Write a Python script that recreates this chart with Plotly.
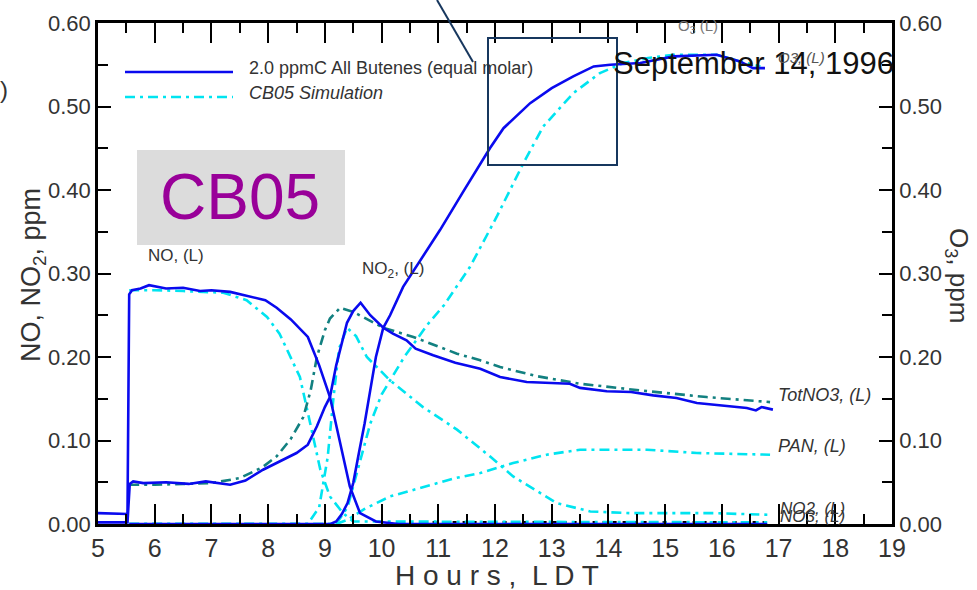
import plotly.graph_objects as go

# ---------------- data ----------------
hours_ticks = list(range(5, 20))

# measured (blue, solid)
no_meas_x = [5.0, 5.52, 5.55, 5.6, 5.75, 5.9, 6.2, 6.5, 6.8, 7.0, 7.33, 7.7, 7.95, 8.15, 8.4, 8.7, 8.9, 9.09, 9.3, 9.44, 9.62, 9.9, 10.3, 16.8]
no_meas_y = [0.013, 0.012, 0.275, 0.280, 0.282, 0.286, 0.282, 0.283, 0.279, 0.280, 0.278, 0.272, 0.268, 0.259, 0.245, 0.224, 0.190, 0.152, 0.090, 0.045, 0.013, 0.003, 0.000, 0.000]

noy_meas_x = [5.0, 5.52, 5.56, 5.62, 5.8, 6.2, 6.6, 6.9, 7.33, 7.6, 7.91, 8.2, 8.5, 8.7, 8.86, 9.0, 9.09, 9.2, 9.39, 9.5, 9.63, 9.8, 10.03, 10.2, 10.44, 10.6, 10.91, 11.3, 11.74, 12.09, 12.56, 13.32, 13.5, 13.97, 14.4, 14.79, 15.2, 15.56, 16.0, 16.44, 16.6, 16.7, 16.9]
noy_meas_y = [0.002, 0.002, 0.048, 0.051, 0.049, 0.050, 0.048, 0.051, 0.047, 0.052, 0.065, 0.075, 0.085, 0.095, 0.117, 0.140, 0.152, 0.190, 0.241, 0.255, 0.265, 0.250, 0.235, 0.228, 0.220, 0.210, 0.202, 0.193, 0.186, 0.176, 0.170, 0.168, 0.163, 0.159, 0.158, 0.154, 0.151, 0.145, 0.142, 0.139, 0.136, 0.140, 0.137]

o3_meas_x = [5.55, 9.1, 9.2, 9.3, 9.4, 9.5, 9.6, 9.7, 9.8, 9.9, 10.03, 10.15, 10.38, 10.86, 11.03, 11.44, 11.91, 12.15, 12.62, 13.0, 13.38, 13.74, 14.03, 14.56, 15.15, 15.91, 16.32, 16.55, 16.76]
o3_meas_y = [0.000, 0.000, 0.003, 0.012, 0.025, 0.049, 0.085, 0.120, 0.160, 0.200, 0.235, 0.250, 0.284, 0.335, 0.352, 0.398, 0.450, 0.474, 0.504, 0.522, 0.536, 0.548, 0.550, 0.552, 0.560, 0.562, 0.554, 0.546, 0.546]

# CB05 simulation (cyan / teal, dash-dot)
no_sim_x = [5.55, 6.0, 6.5, 7.0, 7.21, 7.62, 7.98, 8.2, 8.39, 8.56, 8.74, 8.92, 9.09, 9.32, 9.5, 16.8]
no_sim_y = [0.280, 0.280, 0.279, 0.277, 0.277, 0.268, 0.248, 0.228, 0.200, 0.176, 0.121, 0.065, 0.033, 0.013, 0.003, 0.002]

totno3_sim_x = [5.55, 6.0, 6.5, 7.0, 7.5, 7.9, 8.15, 8.4, 8.62, 8.75, 8.86, 9.0, 9.09, 9.27, 9.5, 9.75, 10.03, 10.56, 11.33, 11.74, 12.09, 12.74, 13.5, 14.56, 15.73, 16.85]
totno3_sim_y = [0.047, 0.047, 0.048, 0.049, 0.055, 0.068, 0.081, 0.102, 0.128, 0.160, 0.200, 0.232, 0.246, 0.259, 0.254, 0.245, 0.235, 0.224, 0.204, 0.196, 0.188, 0.177, 0.168, 0.160, 0.152, 0.146]

no2_sim_x = [5.55, 8.7, 8.9, 9.05, 9.15, 9.25, 9.39, 9.55, 9.74, 10.15, 10.73, 11.33, 11.91, 12.32, 13.09, 13.68, 14.38, 15.85, 16.85]
no2_sim_y = [0.000, 0.000, 0.020, 0.080, 0.150, 0.210, 0.235, 0.225, 0.200, 0.172, 0.140, 0.113, 0.081, 0.057, 0.025, 0.015, 0.013, 0.013, 0.011]

pan_sim_x = [5.55, 9.2, 9.4, 9.7, 10.15, 10.8, 11.3, 11.74, 12.32, 12.91, 13.5, 14.68, 15.56, 16.85]
pan_sim_y = [0.000, 0.000, 0.005, 0.018, 0.033, 0.045, 0.055, 0.061, 0.073, 0.083, 0.089, 0.089, 0.085, 0.083]

o3_sim_x = [5.55, 9.2, 9.4, 9.6, 9.8, 10.0, 10.4, 10.8, 11.1, 11.56, 12.03, 12.5, 12.85, 13.38, 13.85, 14.26, 14.7, 15.15, 15.91, 16.32, 16.68]
o3_sim_y = [0.000, 0.000, 0.020, 0.070, 0.120, 0.155, 0.200, 0.238, 0.262, 0.308, 0.368, 0.432, 0.476, 0.516, 0.540, 0.552, 0.558, 0.562, 0.562, 0.554, 0.548]

no3_x = [10.9, 16.8]
no3_y = [0.002, 0.002]

# ---------------- styles ----------------
BLUE = "#0a0aee"
CYAN = "#00e4f0"
TEAL = "#128080"
DASHDOT = "10px,5px,3px,5px"
FONT = "Liberation Sans, Arial, sans-serif"
GRAY = "#333333"

fig = go.Figure()

def add(x, y, color, dash=None, yaxis="y", width=2.6):
    fig.add_trace(go.Scatter(x=x, y=y, mode="lines", yaxis=yaxis, showlegend=False,
                             line=dict(color=color, width=width, dash=dash), hoverinfo="skip"))

add(no3_x, no3_y, "black", "4px,6px")
add(no_sim_x, no_sim_y, CYAN, DASHDOT)
add(no2_sim_x, no2_sim_y, CYAN, DASHDOT)
add(pan_sim_x, pan_sim_y, CYAN, DASHDOT)
add(o3_sim_x, o3_sim_y, CYAN, DASHDOT, yaxis="y2")
add(totno3_sim_x, totno3_sim_y, TEAL, DASHDOT)
add(no_meas_x, no_meas_y, BLUE)
add(noy_meas_x, noy_meas_y, BLUE)
add(o3_meas_x, o3_meas_y, BLUE, yaxis="y2")

axis_common = dict(showgrid=False, zeroline=False, showline=True, linecolor="black", linewidth=2.5,
                   ticks="inside", tickcolor="black", tickwidth=2)

fig.update_layout(
    width=977, height=590, autosize=False,
    margin=dict(l=98, r=85, t=23, b=66),
    paper_bgcolor="white", plot_bgcolor="white",
    font=dict(family=FONT, color=GRAY),
    xaxis=dict(range=[5, 19], tickvals=hours_ticks, ticklen=20, mirror="ticks",
               minor=dict(dtick=0.5, ticklen=10, ticks="inside", tickcolor="black", tickwidth=2),
               tickfont=dict(size=25, family="Liberation Sans Narrow, Liberation Sans, Arial", color=GRAY),
               **axis_common),
    yaxis=dict(range=[0, 0.6], dtick=0.1, tickformat=".2f", ticklen=13,
               minor=dict(dtick=0.05, ticklen=10, ticks="inside", tickcolor="black", tickwidth=2),
               tickfont=dict(size=22, color=GRAY), **axis_common),
    yaxis2=dict(range=[0, 0.6], dtick=0.1, tickformat=".2f", ticklen=13, overlaying="y", side="right",
                minor=dict(dtick=0.05, ticklen=10, ticks="inside", tickcolor="black", tickwidth=2),
                tickfont=dict(size=22, color=GRAY), **axis_common),
)

def px_x(px):
    return (px - 98) / 794.0

def px_y(py):
    return (524 - py) / 501.0

shapes = [
    # CB05 grey box
    dict(type="rect", xref="paper", yref="paper", x0=px_x(137), x1=px_x(345), y0=px_y(245), y1=px_y(150),
         fillcolor="#dcdcdc", line=dict(width=0), layer="below"),
    # legend sample lines
    dict(type="line", xref="paper", yref="paper", x0=px_x(125), x1=px_x(233), y0=px_y(72), y1=px_y(72),
         line=dict(color=BLUE, width=2.6)),
    dict(type="line", xref="paper", yref="paper", x0=px_x(125), x1=px_x(233), y0=px_y(97), y1=px_y(97),
         line=dict(color=CYAN, width=2.6, dash=DASHDOT)),
    # zoom box and pointer
    dict(type="rect", xref="paper", yref="paper", x0=px_x(488), x1=px_x(617), y0=px_y(165), y1=px_y(38),
         line=dict(color="#17375e", width=2)),
    dict(type="line", xref="paper", yref="paper", x0=px_x(437), x1=px_x(473), y0=px_y(0), y1=px_y(62),
         line=dict(color="#17375e", width=2)),
]
fig.update_layout(shapes=shapes)

def note(text, px, py, size=15, xanchor="left", color=GRAY, angle=0, family=FONT):
    fig.add_annotation(text=text, x=px_x(px), y=px_y(py), xref="paper", yref="paper",
                       xanchor=xanchor, yanchor="middle", showarrow=False, textangle=angle,
                       font=dict(size=size, color=color, family=family))

note("2.0 ppmC All Butenes (equal molar)", 247, 68, size=18)
note("<i>CB05 Simulation</i>", 247, 93, size=18)
note("CB05", 240, 197, size=64, xanchor="center", color="#990099")
note("September 14, 1996", 753, 63, size=31, xanchor="center", color="#111111")
note("NO, (L)", 146, 255, size=17)
note("NO<sub>2</sub>, (L)", 360, 270, size=17)
note("<i>TotNO3, (L)</i>", 776, 395, size=18)
note("<i>PAN, (L)</i>", 776, 446, size=18)
note("<i>NO2, (L)</i>", 778, 508, size=17)
note("<i>NO3, (L)</i>", 778, 516, size=17)
note("O<sub>3</sub> (L)", 676, 27, size=15, color="#777777")
note("<i>O3, (L)</i>", 776, 58, size=15, color="#555555")
note(")", 4, 90, size=24, xanchor="center")

# axis titles
note("NO, NO<sub>2</sub>, ppm", 33, 275, size=27, xanchor="center", angle=-90)
note("O<sub>3</sub>, ppm", 958, 275, size=26, xanchor="center", angle=90)
note("H o u r s ,  L D T", 497, 575, size=28, xanchor="center")

fig.write_html("out.html")
